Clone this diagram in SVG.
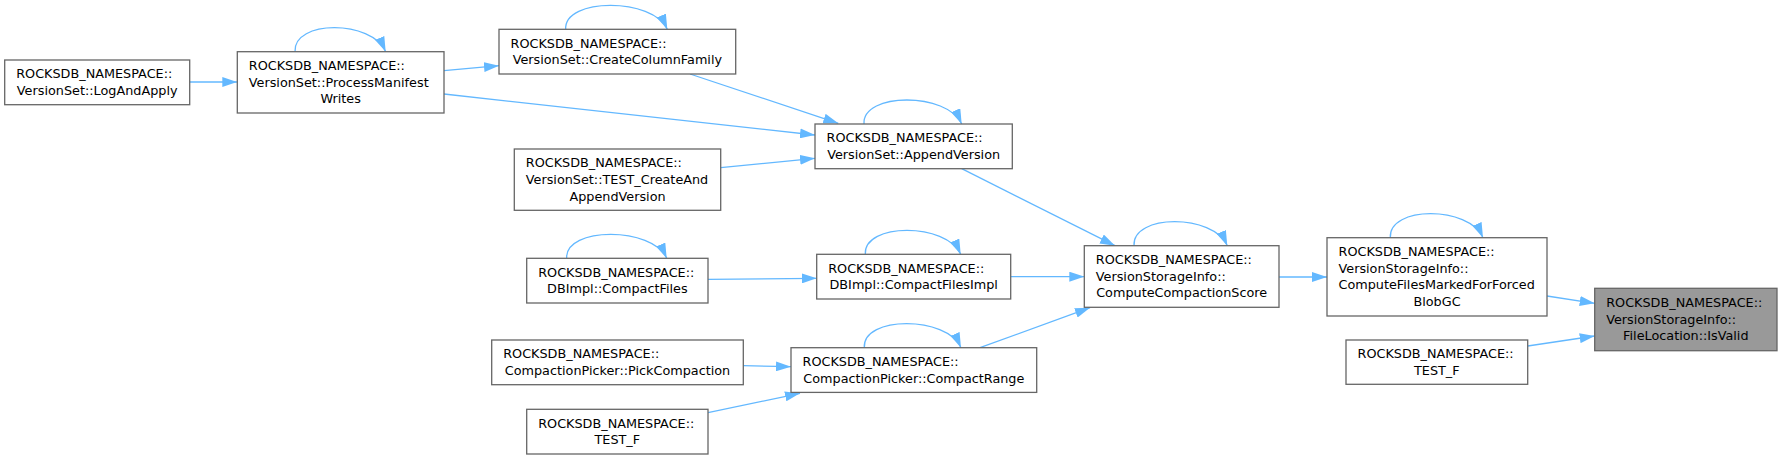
<svg xmlns="http://www.w3.org/2000/svg" width="1782" height="459" viewBox="0 0 1782 459">
<style>
.n rect{fill:#ffffff;stroke:#666666;stroke-width:1.3}
.n rect.hl{fill:#999999}
text{font-family:"DejaVu Sans","Liberation Sans",sans-serif;font-size:12.8px;fill:#000000}
.m{text-anchor:middle}
.e{fill:none;stroke:#63b8ff;stroke-width:1.3;marker-end:url(#ah)}
</style>
<defs>
<marker id="ah" markerUnits="userSpaceOnUse" viewBox="0 0 15 10" markerWidth="15" markerHeight="10" refX="15" refY="5" orient="auto">
<path d="M0,0 L15,5 L0,10 z" fill="#63b8ff"/>
</marker>
</defs>
<rect x="0" y="0" width="1782" height="459" fill="#ffffff"/>
<g id="connectors">
<path class="e" d="M189.7,82 L237.3,82"/>
<path class="e" d="M444,70.7 L499,65.7"/>
<path class="e" d="M444,94 L815,135"/>
<path class="e" d="M690,74 L838.3,123.3"/>
<path class="e" d="M720.7,167.7 L815,158.3"/>
<path class="e" d="M961.7,168.7 L1115,245.7"/>
<path class="e" d="M708,279.3 L816.7,278.3"/>
<path class="e" d="M1010.7,276.7 L1084.3,276.7"/>
<path class="e" d="M743.3,365.7 L791,366.7"/>
<path class="e" d="M708,412.7 L800,393.3"/>
<path class="e" d="M980,347.7 L1090,307.7"/>
<path class="e" d="M1279,277 L1327,277"/>
<path class="e" d="M1547,296 L1594.7,303.3"/>
<path class="e" d="M1527.7,346 L1594.7,336"/>
<path class="e" d="M295,51.7 C293,19.7 371.7,19.7 385.7,51.7"/>
<path class="e" d="M565.7,29.3 C563.7,-2.7 653.3,-2.7 667.3,29.3"/>
<path class="e" d="M864,124 C862,92 947.7,92 961.7,124"/>
<path class="e" d="M566.7,258.3 C564.7,226.3 652.7,226.3 666.7,258.3"/>
<path class="e" d="M865.3,254.3 C863.3,222.3 946.7,222.3 960.7,254.3"/>
<path class="e" d="M864.3,347.7 C862.3,315.7 947,315.7 961,347.7"/>
<path class="e" d="M1134,245.7 C1132,213.7 1213.3,213.7 1227.3,245.7"/>
<path class="e" d="M1390.3,237.7 C1388.3,205.7 1469,205.7 1483,237.7"/>
</g>
<g id="n_logandapply" class="n"><rect x="4.7" y="60" width="185" height="44.7"/><text x="16.2" y="78.2">ROCKSDB_NAMESPACE::</text><text class="m" x="97.2" y="94.9">VersionSet::LogAndApply</text></g>
<g id="n_processmanifestwrites" class="n"><rect x="237.3" y="51.7" width="206.7" height="61.3"/><text x="248.8" y="69.85">ROCKSDB_NAMESPACE::</text><text x="248.8" y="86.55">VersionSet::ProcessManifest</text><text class="m" x="340.65" y="103.25">Writes</text></g>
<g id="n_createcolumnfamily" class="n"><rect x="499" y="29.3" width="236.7" height="44.7"/><text x="510.5" y="47.5">ROCKSDB_NAMESPACE::</text><text class="m" x="617.35" y="64.2">VersionSet::CreateColumnFamily</text></g>
<g id="n_appendversion" class="n"><rect x="815" y="124" width="197.3" height="44.7"/><text x="826.5" y="142.2">ROCKSDB_NAMESPACE::</text><text class="m" x="913.65" y="158.9">VersionSet::AppendVersion</text></g>
<g id="n_test_createandappendversion" class="n"><rect x="514.3" y="149" width="206.4" height="61.3"/><text x="525.8" y="167.15">ROCKSDB_NAMESPACE::</text><text x="525.8" y="183.85">VersionSet::TEST_CreateAnd</text><text class="m" x="617.5" y="200.55">AppendVersion</text></g>
<g id="n_compactfiles" class="n"><rect x="526.7" y="258.3" width="181.3" height="44.7"/><text x="538.2" y="276.5">ROCKSDB_NAMESPACE::</text><text class="m" x="617.35" y="293.2">DBImpl::CompactFiles</text></g>
<g id="n_compactfilesimpl" class="n"><rect x="816.7" y="254.3" width="194" height="44.7"/><text x="828.2" y="272.5">ROCKSDB_NAMESPACE::</text><text class="m" x="913.7" y="289.2">DBImpl::CompactFilesImpl</text></g>
<g id="n_computecompactionscore" class="n"><rect x="1084.3" y="245.7" width="194.7" height="61.6"/><text x="1095.8" y="264">ROCKSDB_NAMESPACE::</text><text x="1095.8" y="280.7">VersionStorageInfo::</text><text class="m" x="1181.65" y="297.4">ComputeCompactionScore</text></g>
<g id="n_pickcompaction" class="n"><rect x="491.7" y="340" width="251.6" height="44.7"/><text x="503.2" y="358.2">ROCKSDB_NAMESPACE::</text><text class="m" x="617.5" y="374.9">CompactionPicker::PickCompaction</text></g>
<g id="n_compactrange" class="n"><rect x="791" y="347.7" width="245.7" height="44.7"/><text x="802.5" y="365.9">ROCKSDB_NAMESPACE::</text><text class="m" x="913.85" y="382.6">CompactionPicker::CompactRange</text></g>
<g id="n_test_f_1" class="n"><rect x="526.7" y="409.3" width="181.3" height="44.7"/><text x="538.2" y="427.5">ROCKSDB_NAMESPACE::</text><text class="m" x="617.35" y="444.2">TEST_F</text></g>
<g id="n_computefilesmarkedforforcedblobgc" class="n"><rect x="1327" y="237.7" width="220" height="78.3"/><text x="1338.5" y="256">ROCKSDB_NAMESPACE::</text><text x="1338.5" y="272.7">VersionStorageInfo::</text><text x="1338.5" y="289.4">ComputeFilesMarkedForForced</text><text class="m" x="1437" y="306.1">BlobGC</text></g>
<g id="n_test_f_2" class="n"><rect x="1346" y="340" width="181.7" height="44.3"/><text x="1357.5" y="358">ROCKSDB_NAMESPACE::</text><text class="m" x="1436.85" y="374.7">TEST_F</text></g>
<g id="n_isvalid" class="n"><rect class="hl" x="1594.7" y="288.3" width="182.3" height="62.4"/><text x="1606.2" y="307">ROCKSDB_NAMESPACE::</text><text x="1606.2" y="323.7">VersionStorageInfo::</text><text class="m" x="1685.85" y="340.4">FileLocation::IsValid</text></g>
</svg>
